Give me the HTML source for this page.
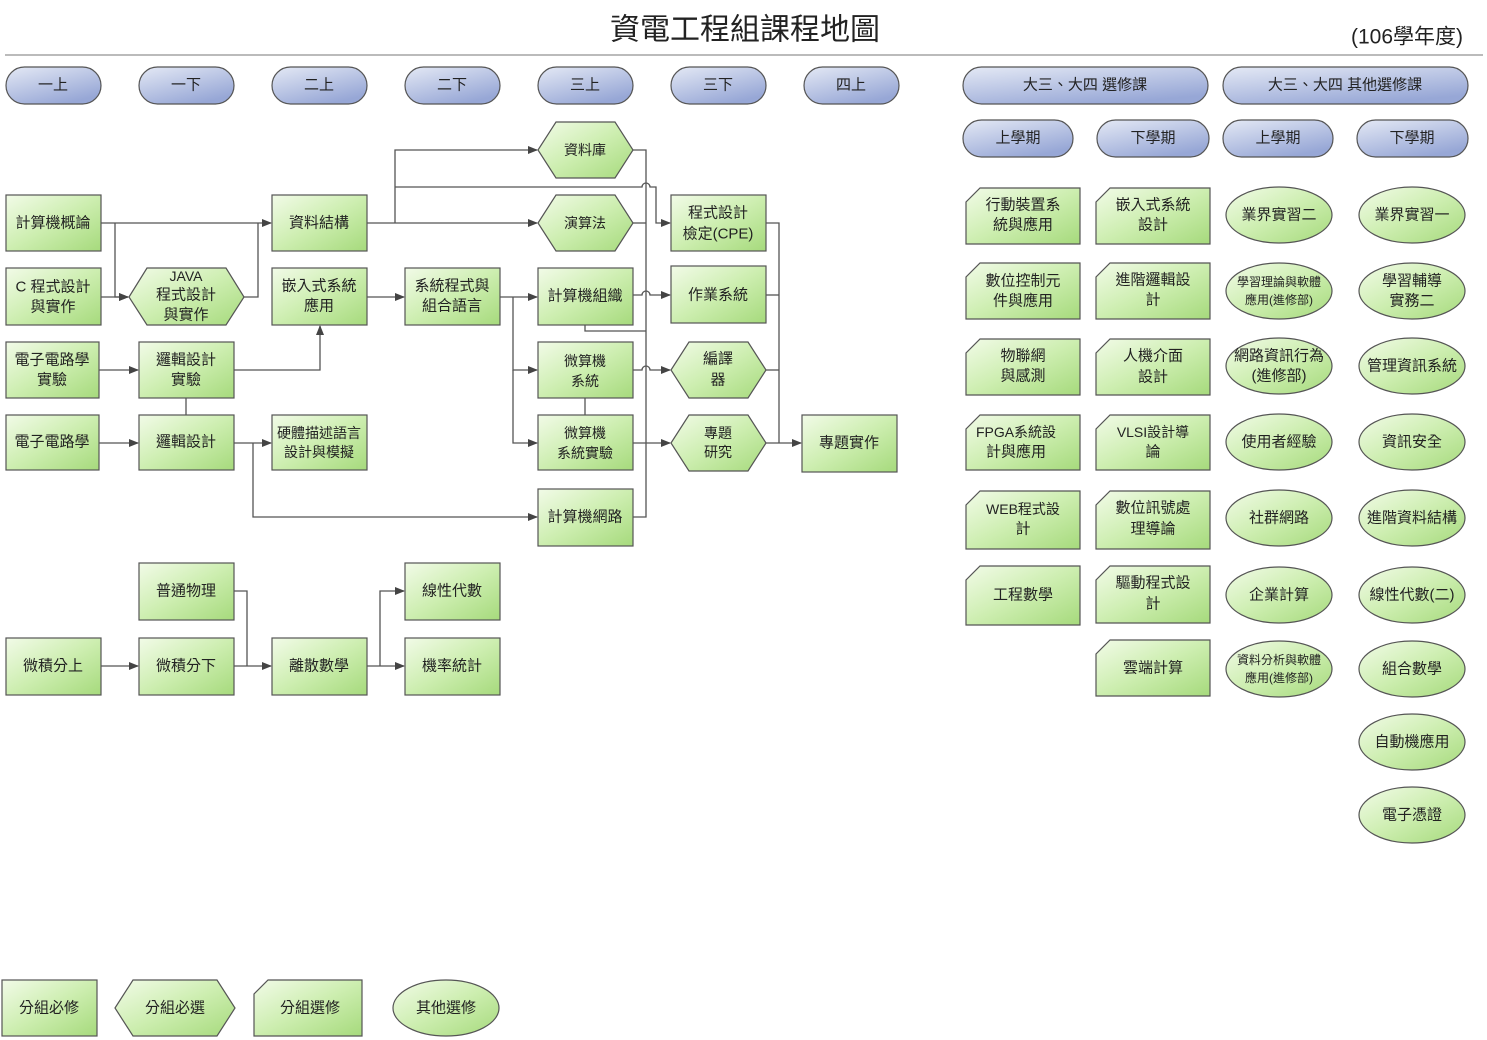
<!DOCTYPE html>
<html><head><meta charset="utf-8"><style>
body{margin:0;background:#fff}
svg{display:block}
text{font-family:"Liberation Sans","Noto Sans CJK TC",sans-serif;font-size:15px;fill:#222;text-anchor:middle;dominant-baseline:central}
.g{fill:url(#gg);stroke:#555;stroke-width:1.2}
.b{fill:url(#bg);stroke:#555;stroke-width:1.2}
.l{fill:none;stroke:#555;stroke-width:1.3}
.a{fill:none;stroke:#555;stroke-width:1.3;marker-end:url(#ar)}
.s{font-size:12px}
</style></head><body>
<svg width="1487" height="1040" viewBox="0 0 1487 1040">
<defs>
<linearGradient id="gg" x1="0" y1="0" x2="1" y2="1"><stop offset="0" stop-color="#f2fbe8"/><stop offset="0.5" stop-color="#cdeeb0"/><stop offset="1" stop-color="#a6da7c"/></linearGradient>
<linearGradient id="bg" x1="0" y1="0" x2="0.6" y2="1"><stop offset="0" stop-color="#e4e9f5"/><stop offset="1" stop-color="#97a7d6"/></linearGradient>
<marker id="ar" markerWidth="10" markerHeight="10" refX="9" refY="5" orient="auto" markerUnits="userSpaceOnUse"><path d="M0,1 L10,5 L0,9 Z" fill="#444"/></marker>
</defs>
<text x="745" y="30" style="font-size:30px">資電工程組課程地圖</text>
<text x="1407" y="37" style="font-size:21px">(106學年度)</text>
<line x1="5" y1="55" x2="1483" y2="55" stroke="#777" stroke-width="1"/>

<!-- header pills -->
<g>
<rect class="b" x="6" y="67" width="95" height="37" rx="18.5"/><text x="53" y="85">一上</text>
<rect class="b" x="139" y="67" width="95" height="37" rx="18.5"/><text x="186" y="85">一下</text>
<rect class="b" x="272" y="67" width="95" height="37" rx="18.5"/><text x="319" y="85">二上</text>
<rect class="b" x="405" y="67" width="95" height="37" rx="18.5"/><text x="452" y="85">二下</text>
<rect class="b" x="538" y="67" width="95" height="37" rx="18.5"/><text x="585" y="85">三上</text>
<rect class="b" x="671" y="67" width="95" height="37" rx="18.5"/><text x="718" y="85">三下</text>
<rect class="b" x="804" y="67" width="95" height="37" rx="18.5"/><text x="851" y="85">四上</text>
<rect class="b" x="963" y="67" width="245" height="37" rx="18.5"/><text x="1085" y="85">大三、大四 選修課</text>
<rect class="b" x="1223" y="67" width="245" height="37" rx="18.5"/><text x="1345" y="85">大三、大四 其他選修課</text>
<rect class="b" x="963" y="120" width="110" height="37" rx="18.5"/><text x="1018" y="138">上學期</text>
<rect class="b" x="1097" y="120" width="112" height="37" rx="18.5"/><text x="1153" y="138">下學期</text>
<rect class="b" x="1223" y="120" width="110" height="37" rx="18.5"/><text x="1278" y="138">上學期</text>
<rect class="b" x="1357" y="120" width="111" height="37" rx="18.5"/><text x="1412" y="138">下學期</text>
</g>

<!-- connectors -->
<path class="a" d="M101,223 H271"/>
<path class="a" d="M115,223 V297 H128"/>
<path class="a" d="M101,297 H128"/>
<path class="l" d="M244,297 H258 V223"/>
<path class="a" d="M367,223 H537"/>
<path class="a" d="M395,223 V150 H537"/>
<path class="a" d="M395,187 H642 a4,4 0 0 1 8,0 H656 V223 H670"/>
<path class="l" d="M633,150 H646 V517 H633"/>
<path class="l" d="M633,223 H646"/>
<path class="l" d="M585,325 V331 H646"/>
<path class="a" d="M633,443 H670"/>
<path class="a" d="M367,297 H404"/>
<path class="a" d="M500,297 H537"/>
<path class="a" d="M513,297 V370 H537"/>
<path class="a" d="M513,370 V443 H537"/>
<path class="a" d="M633,295 H642 a4,4 0 0 1 8,0 H670"/>
<path class="a" d="M633,370 H642 a4,4 0 0 1 8,0 H670"/>
<path class="l" d="M585,398 V415"/>
<path class="l" d="M766,223 H779 V443"/>
<path class="l" d="M766,295 H779"/>
<path class="l" d="M766,370 H779"/>
<path class="a" d="M766,443 H801"/>
<path class="a" d="M99,370 H138"/>
<path class="a" d="M234,370 H320 V326"/>
<path class="l" d="M186,398 V415"/>
<path class="a" d="M99,443 H138"/>
<path class="a" d="M234,443 H271"/>
<path class="a" d="M253,443 V517 H537"/>
<path class="l" d="M234,591 H247 V666"/>
<path class="a" d="M101,666 H138"/>
<path class="a" d="M234,666 H271"/>
<path class="a" d="M367,666 H404"/>
<path class="a" d="M380,666 V591 H404"/>

<!-- rect nodes -->
<g>
<rect class="g" x="6" y="195" width="95" height="56"/><text x="53" y="223">計算機概論</text>
<rect class="g" x="6" y="268" width="95" height="57"/><text x="53" y="287">C 程式設計</text><text x="53" y="307">與實作</text>
<rect class="g" x="6" y="342" width="93" height="56"/><text x="52" y="360">電子電路學</text><text x="52" y="380">實驗</text>
<rect class="g" x="6" y="415" width="93" height="55"/><text x="52" y="442">電子電路學</text>
<rect class="g" x="139" y="342" width="95" height="56"/><text x="186" y="360">邏輯設計</text><text x="186" y="380">實驗</text>
<rect class="g" x="139" y="415" width="95" height="55"/><text x="186" y="442">邏輯設計</text>
<rect class="g" x="272" y="195" width="95" height="56"/><text x="319" y="223">資料結構</text>
<rect class="g" x="272" y="268" width="95" height="57"/><text x="319" y="286">嵌入式系統</text><text x="319" y="306">應用</text>
<rect class="g" x="272" y="415" width="95" height="55"/><text x="319" y="433" class="s" style="font-size:14px">硬體描述語言</text><text x="319" y="452" style="font-size:14px">設計與模擬</text>
<rect class="g" x="405" y="268" width="95" height="57"/><text x="452" y="286">系統程式與</text><text x="452" y="306">組合語言</text>
<rect class="g" x="538" y="268" width="95" height="57"/><text x="585" y="296">計算機組織</text>
<rect class="g" x="538" y="342" width="95" height="56"/><text x="585" y="361" style="font-size:14px">微算機</text><text x="585" y="381" style="font-size:14px">系統</text>
<rect class="g" x="538" y="415" width="95" height="55"/><text x="585" y="433" style="font-size:14px">微算機</text><text x="585" y="453" style="font-size:14px">系統實驗</text>
<rect class="g" x="538" y="489" width="95" height="57"/><text x="585" y="517">計算機網路</text>
<rect class="g" x="671" y="195" width="95" height="56"/><text x="718" y="213">程式設計</text><text x="718" y="234">檢定(CPE)</text>
<rect class="g" x="671" y="266" width="95" height="57"/><text x="718" y="295">作業系統</text>
<rect class="g" x="802" y="415" width="95" height="57"/><text x="849" y="443">專題實作</text>
<rect class="g" x="139" y="563" width="95" height="57"/><text x="186" y="591">普通物理</text>
<rect class="g" x="6" y="638" width="95" height="57"/><text x="53" y="666">微積分上</text>
<rect class="g" x="139" y="638" width="95" height="57"/><text x="186" y="666">微積分下</text>
<rect class="g" x="272" y="638" width="95" height="57"/><text x="319" y="666">離散數學</text>
<rect class="g" x="405" y="563" width="95" height="57"/><text x="452" y="591">線性代數</text>
<rect class="g" x="405" y="638" width="95" height="57"/><text x="452" y="666">機率統計</text>
</g>

<!-- hex nodes -->
<g>
<path class="g" d="M129,297 L147,268 L226,268 L244,297 L226,325 L147,325 Z"/><text x="186" y="276" style="font-size:14px">JAVA</text><text x="186" y="295">程式設計</text><text x="186" y="315">與實作</text>
<path class="g" d="M538,150 L556,122 L615,122 L633,150 L615,178 L556,178 Z"/><text x="585" y="150" style="font-size:14px">資料庫</text>
<path class="g" d="M538,223 L556,195 L615,195 L633,223 L615,251 L556,251 Z"/><text x="585" y="223" style="font-size:14px">演算法</text>
<path class="g" d="M671,370 L689,342 L748,342 L766,370 L748,398 L689,398 Z"/><text x="718" y="359">編譯</text><text x="718" y="380">器</text>
<path class="g" d="M671,443 L689,415 L748,415 L766,443 L748,471 L689,471 Z"/><text x="718" y="433" style="font-size:14px">專題</text><text x="718" y="452" style="font-size:14px">研究</text>
</g>

<!-- elective notched col1 -->
<g>
<path class="g" d="M980,188 H1080 V244 H966 V202 Z"/><text x="1023" y="205">行動裝置系</text><text x="1023" y="225">統與應用</text>
<path class="g" d="M980,263 H1080 V319 H966 V277 Z"/><text x="1023" y="281">數位控制元</text><text x="1023" y="301">件與應用</text>
<path class="g" d="M980,339 H1080 V395 H966 V353 Z"/><text x="1023" y="356">物聯網</text><text x="1023" y="376">與感測</text>
<path class="g" d="M980,415 H1080 V470 H966 V429 Z"/><text x="1016" y="432" style="font-size:14px">FPGA系統設</text><text x="1016" y="452">計與應用</text>
<path class="g" d="M980,491 H1080 V549 H966 V505 Z"/><text x="1023" y="509" style="font-size:14px">WEB程式設</text><text x="1023" y="529">計</text>
<path class="g" d="M980,566 H1080 V625 H966 V580 Z"/><text x="1023" y="595">工程數學</text>
</g>
<g>
<path class="g" d="M1110,188 H1210 V244 H1096 V202 Z"/><text x="1153" y="205">嵌入式系統</text><text x="1153" y="225">設計</text>
<path class="g" d="M1110,263 H1210 V319 H1096 V277 Z"/><text x="1153" y="280">進階邏輯設</text><text x="1153" y="300">計</text>
<path class="g" d="M1110,339 H1210 V395 H1096 V353 Z"/><text x="1153" y="356">人機介面</text><text x="1153" y="377">設計</text>
<path class="g" d="M1110,415 H1210 V470 H1096 V429 Z"/><text x="1153" y="432" style="font-size:14px">VLSI設計導</text><text x="1153" y="452">論</text>
<path class="g" d="M1110,491 H1210 V549 H1096 V505 Z"/><text x="1153" y="508">數位訊號處</text><text x="1153" y="529">理導論</text>
<path class="g" d="M1110,566 H1210 V623 H1096 V580 Z"/><text x="1153" y="583">驅動程式設</text><text x="1153" y="604">計</text>
<path class="g" d="M1110,640 H1210 V696 H1096 V654 Z"/><text x="1153" y="668">雲端計算</text>
</g>

<!-- ellipses col3 -->
<g>
<ellipse class="g" cx="1279" cy="215" rx="53" ry="28"/><text x="1279" y="215">業界實習二</text>
<ellipse class="g" cx="1279" cy="291" rx="53" ry="28"/><text x="1279" y="282" style="font-size:12px">學習理論與軟體</text><text x="1279" y="300" style="font-size:12px">應用(進修部)</text>
<ellipse class="g" cx="1279" cy="366" rx="53" ry="28"/><text x="1279" y="356">網路資訊行為</text><text x="1279" y="376">(進修部)</text>
<ellipse class="g" cx="1279" cy="442" rx="53" ry="28"/><text x="1279" y="442">使用者經驗</text>
<ellipse class="g" cx="1279" cy="518" rx="53" ry="28"/><text x="1279" y="518">社群網路</text>
<ellipse class="g" cx="1279" cy="595" rx="53" ry="28"/><text x="1279" y="595">企業計算</text>
<ellipse class="g" cx="1279" cy="669" rx="53" ry="28"/><text x="1279" y="660" style="font-size:12px">資料分析與軟體</text><text x="1279" y="678" style="font-size:12px">應用(進修部)</text>
</g>
<g>
<ellipse class="g" cx="1412" cy="215" rx="53" ry="28"/><text x="1412" y="215">業界實習一</text>
<ellipse class="g" cx="1412" cy="291" rx="53" ry="28"/><text x="1412" y="281">學習輔導</text><text x="1412" y="301">實務二</text>
<ellipse class="g" cx="1412" cy="366" rx="53" ry="28"/><text x="1412" y="366">管理資訊系統</text>
<ellipse class="g" cx="1412" cy="442" rx="53" ry="28"/><text x="1412" y="442">資訊安全</text>
<ellipse class="g" cx="1412" cy="518" rx="53" ry="28"/><text x="1412" y="518">進階資料結構</text>
<ellipse class="g" cx="1412" cy="595" rx="53" ry="28"/><text x="1412" y="595">線性代數(二)</text>
<ellipse class="g" cx="1412" cy="669" rx="53" ry="28"/><text x="1412" y="669">組合數學</text>
<ellipse class="g" cx="1412" cy="742" rx="53" ry="28"/><text x="1412" y="742">自動機應用</text>
<ellipse class="g" cx="1412" cy="815" rx="53" ry="28"/><text x="1412" y="815">電子憑證</text>
</g>

<!-- legend -->
<g>
<rect class="g" x="2" y="980" width="95" height="56"/><text x="49" y="1008">分組必修</text>
<path class="g" d="M115,1008 L133,980 L217,980 L235,1008 L217,1036 L133,1036 Z"/><text x="175" y="1008">分組必選</text>
<path class="g" d="M268,980 H362 V1036 H254 V994 Z"/><text x="310" y="1008">分組選修</text>
<ellipse class="g" cx="446" cy="1008" rx="53" ry="28"/><text x="446" y="1008">其他選修</text>
</g>
</svg>
</body></html>
